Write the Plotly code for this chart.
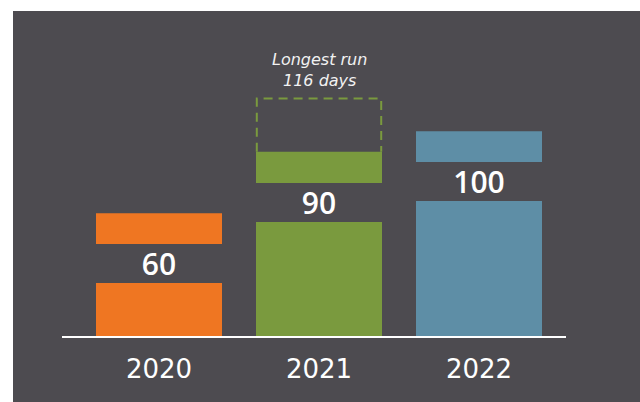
import plotly.graph_objects as go

# ---- data ----
years = ["2020", "2021", "2022"]
days = [60, 90, 100]
bar_colors = ["#ef7622", "#7a9a3e", "#5e8ea6"]
longest_index = 1
longest_days = 116
longest_text = f"Longest run<br>{longest_days} days"

# ---- layout constants ----
W, H = 640, 402
panel = "#4d4b50"
px_per_unit = 2.047
base_px = 336            # baseline y (pixels from top)
x_left_px, x_right_px = 62, 566
cat_px = 160
bar_w = 126 / cat_px
x_idx = list(range(len(years)))

y_top_val = base_px / px_per_unit
x0_range = -(159 - x_left_px) / cat_px
x1_range = 2 + (x_right_px - 479) / cat_px

fig = go.Figure()
fig.add_trace(go.Bar(
    x=x_idx, y=days, width=bar_w,
    marker=dict(color=bar_colors, line=dict(width=0)),
    hoverinfo="skip",
))

# background panel
fig.add_shape(type="rect", xref="paper", yref="paper",
              x0=13 / W, x1=1, y0=0, y1=1 - 11 / H,
              fillcolor=panel, line=dict(width=0), layer="below")

# dashed outline for the longest run
hx = bar_w / 2 - 0.005
xa, xb = longest_index - hx, longest_index + hx
yb, yt = days[longest_index], longest_days
fig.add_shape(type="path", xref="x", yref="y",
              path=f"M {xa},{yb} L {xa},{yt} L {xb},{yt} L {xb},{yb}",
              line=dict(color=bar_colors[longest_index], width=2, dash="9px,6px"),
              layer="above")

# value labels with background band
for i, v in zip(x_idx, days):
    fig.add_annotation(
        x=i, y=v, xref="x", yref="y", text=str(v),
        showarrow=False, yanchor="top", yshift=-31,
        width=126, height=39, borderpad=0, borderwidth=0,
        bgcolor=panel, valign="middle", align="center",
        font=dict(family="Open Sans", size=30, color="white", weight=600),
    )

fig.add_annotation(
    x=longest_index, y=longest_days, xref="x", yref="y",
    text=longest_text, showarrow=False,
    yanchor="bottom", yshift=7,
    font=dict(family="DejaVu Sans", size=16, color="#f2f2f2", style="italic"),
)

fig.update_layout(
    width=W, height=H,
    margin=dict(l=0, r=0, t=0, b=0),
    paper_bgcolor="white",
    plot_bgcolor="rgba(0,0,0,0)",
    showlegend=False,
    xaxis=dict(
        domain=[x_left_px / W, x_right_px / W],
        range=[x0_range, x1_range],
        tickvals=x_idx, ticktext=years,
        showgrid=False, zeroline=False,
        showline=True, linecolor="white", linewidth=2,
        ticks="", ticklabelstandoff=9,
        tickfont=dict(family="DejaVu Sans", size=26, color="white"),
    ),
    yaxis=dict(
        domain=[(H - base_px) / H, 1],
        range=[0, y_top_val],
        visible=False,
    ),
)

fig.write_html("out.html")
